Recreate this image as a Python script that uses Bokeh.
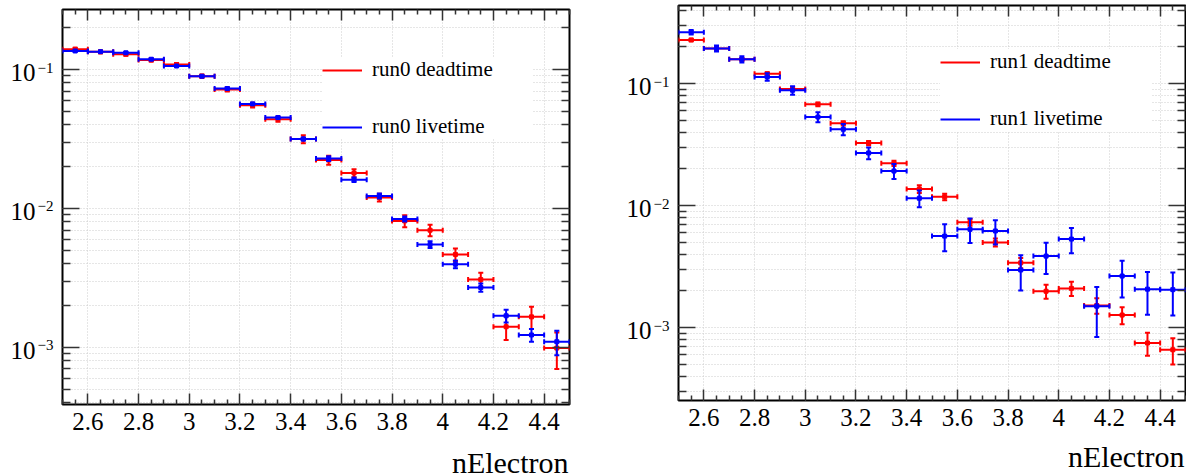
import math
from bokeh.plotting import figure
from bokeh.layouts import row, column
from bokeh.models import (ColumnDataSource, Range1d, FixedTicker, LinearAxis, LogAxis,
                          CustomJSTickFormatter, Legend, LegendItem)
from bokeh.core.properties import value
from bokeh.embed import file_html
from bokeh.resources import INLINE

# ---------------- data ----------------
bin_centers = [2.55, 2.65, 2.75, 2.85, 2.95, 3.05, 3.15, 3.25, 3.35, 3.45,
               3.55, 3.65, 3.75, 3.85, 3.95, 4.05, 4.15, 4.25, 4.35, 4.45]
bin_width = 0.1

run0_dead = [0.140, 0.134, 0.129, 0.117, 0.1086, 0.0895, 0.0718, 0.0554, 0.0439, 0.0316,
             0.0223, 0.0180, 0.0120, 0.00814, 0.00698, 0.00467, 0.00308, 0.00141, 0.00166, 0.00099]
run0_dead_err = [0.0035, 0.0033, 0.0032, 0.003, 0.0028, 0.0025, 0.0023, 0.0022, 0.0018, 0.0021,
                 0.00165, 0.0012, 0.00075, 0.0008, 0.00066, 0.00048, 0.00037, 0.00028, 0.0003, 0.00029]
run0_live = [0.136, 0.1345, 0.132, 0.1186, 0.106, 0.0895, 0.073, 0.0566, 0.0451, 0.0316,
             0.0229, 0.0161, 0.0123, 0.0084, 0.0055, 0.00397, 0.0027, 0.00169, 0.00123, 0.0011]
run0_live_err = [0.0015, 0.0015, 0.0015, 0.0014, 0.0013, 0.0012, 0.0011, 0.001, 0.0009, 0.0008,
                 0.0009, 0.0006, 0.0005, 0.00035, 0.0003, 0.00026, 0.00018, 0.00018, 0.00013, 0.00022]

run1_dead = [0.2275, 0.194, 0.158, 0.120, 0.0903, 0.0676, 0.0473, 0.0326, 0.0222, 0.0137,
             0.0118, 0.0073, 0.0050, 0.0034, 0.00199, 0.0021, 0.00152, 0.00127, 0.00075, 0.00066]
run1_dead_err = [0.005, 0.0045, 0.004, 0.0035, 0.0028, 0.0025, 0.0019, 0.0013, 0.0011, 0.001,
                 0.00074, 0.00046, 0.00037, 0.00033, 0.00026, 0.00028, 0.00022, 0.0002, 0.00016, 0.00016]
run1_live = [0.2634, 0.194, 0.158, 0.1132, 0.0881, 0.0532, 0.0422, 0.0270, 0.0192, 0.0115,
             0.00563, 0.0064, 0.0062, 0.00297, 0.00386, 0.00532, 0.0015, 0.00265, 0.00207, 0.00205]
run1_live_err = [0.011, 0.011, 0.009, 0.008, 0.007, 0.005, 0.0044, 0.003, 0.0027, 0.0018,
                 0.0014, 0.00145, 0.0014, 0.00095, 0.0011, 0.00125, 0.00066, 0.00088, 0.00079, 0.00079]

x_major_ticks = [2.6, 2.8, 3.0, 3.2, 3.4, 3.6, 3.8, 4.0, 4.2, 4.4]
x_tick_labels = ["2.6", "2.8", "3", "3.2", "3.4", "3.6", "3.8", "4", "4.2", "4.4"]
x_minor_ticks = [2.5, 2.55, 2.65, 2.7, 2.75, 2.85, 2.9, 2.95, 3.05, 3.1, 3.15, 3.25, 3.3, 3.35,
                 3.45, 3.5, 3.55, 3.65, 3.7, 3.75, 3.85, 3.9, 3.95, 4.05, 4.1, 4.15, 4.25, 4.3,
                 4.35, 4.45, 4.5]
y_major_ticks = [1e-3, 1e-2, 1e-1]
y_tick_exponents = ["\u22123", "\u22122", "\u22121"]
y_minor_ticks = [m * 10.0 ** e for e in (-4, -3, -2, -1) for m in range(2, 10)]

x_label = "nElectron"
legend_labels = [["run0 deadtime", "run0 livetime"], ["run1 deadtime", "run1 livetime"]]
colors = ["#ff0000", "#0000ff"]

FONT = "'Liberation Serif'"
HEIGHT = 473


def series_source(vals, errs):
    return ColumnDataSource(dict(
        x=bin_centers,
        x0=[c - bin_width / 2 for c in bin_centers],
        x1=[c + bin_width / 2 for c in bin_centers],
        y=vals,
        ylo=[v - e for v, e in zip(vals, errs)],
        yhi=[v + e for v, e in zip(vals, errs)],
    ))


def style_ticks(ax, tmaj, tmin):
    ax.major_tick_in = tmaj
    ax.major_tick_out = 0
    ax.minor_tick_in = tmin
    ax.minor_tick_out = 0
    ax.major_tick_line_color = "#333333"
    ax.minor_tick_line_color = "#333333"
    ax.major_tick_line_width = 1.5
    ax.minor_tick_line_width = 1.5
    ax.major_label_text_font_size = "1px"
    ax.major_label_text_color = None
    ax.major_label_standoff = 0
    ax.formatter = CustomJSTickFormatter(code="return '';")


def bare_figure(**kw):
    f = figure(output_backend="svg", toolbar_location=None,
               x_axis_location=None, y_axis_location=None, **kw)
    f.outline_line_color = None
    f.background_fill_color = "white"
    f.border_fill_color = "white"
    f.grid.visible = False
    return f


def make_panel(series, labels, yr, W, L, R, T, frame_bottom, legend_loc, title_off):
    H_main = frame_bottom + 2
    yl_w = L - 2
    main_w = W - yl_w
    xl_h = HEIGHT - H_main

    x_range = Range1d(2.5, 4.5)
    y_range = Range1d(*yr)

    p = figure(width=main_w, height=H_main, output_backend="svg", toolbar_location=None,
               x_range=x_range, y_range=y_range, y_axis_type="log",
               min_border_left=2, min_border_right=R,
               min_border_top=T, min_border_bottom=2)
    p.background_fill_color = "white"
    p.border_fill_color = "white"
    p.outline_line_color = "black"
    p.outline_line_width = 2

    xt = FixedTicker(ticks=x_major_ticks, minor_ticks=x_minor_ticks)
    yt = FixedTicker(ticks=y_major_ticks, minor_ticks=y_minor_ticks)

    xa = p.xaxis[0]
    xa.ticker = xt
    ya = p.yaxis[0]
    ya.ticker = yt
    style_ticks(xa, 11, 5)
    style_ticks(ya, 17, 8)
    xa.axis_line_color = None
    ya.axis_line_color = None

    top_ax = LinearAxis(ticker=xt, axis_line_color=None)
    right_ax = LogAxis(ticker=yt, axis_line_color=None)
    style_ticks(top_ax, 11, 5)
    style_ticks(right_ax, 17, 8)
    p.add_layout(top_ax, "above")
    p.add_layout(right_ax, "right")

    p.xgrid.ticker = xt
    p.ygrid.ticker = yt
    for g in (p.xgrid[0], p.ygrid[0]):
        g.grid_line_color = "#cccccc"
        g.grid_line_dash = "1 2"
        g.grid_line_width = 1
    p.ygrid[0].minor_grid_line_color = "#cccccc"
    p.ygrid[0].minor_grid_line_dash = "1 2"
    p.ygrid[0].minor_grid_line_width = 1

    items = []
    for (vals, errs), col, lab in zip(series, colors, labels):
        src = series_source(vals, errs)
        hb = p.segment(x0="x0", y0="y", x1="x1", y1="y", source=src,
                       line_color=col, line_width=2)
        p.segment(x0="x", y0="ylo", x1="x", y1="yhi", source=src,
                  line_color=col, line_width=2)
        p.scatter(x="x0", y="y", source=src, marker="dash", angle=math.pi / 2,
                  size=5, line_color=col, line_width=2)
        p.scatter(x="x1", y="y", source=src, marker="dash", angle=math.pi / 2,
                  size=5, line_color=col, line_width=2)
        p.scatter(x="x", y="ylo", source=src, marker="dash", size=5,
                  line_color=col, line_width=2)
        p.scatter(x="x", y="yhi", source=src, marker="dash", size=5,
                  line_color=col, line_width=2)
        p.scatter(x="x", y="y", source=src, marker="square", size=4,
                  fill_color=col, line_color=col)
        items.append(LegendItem(label=lab, renderers=[hb]))

    leg = Legend(items=items, location=legend_loc, margin=0, padding=10,
                 glyph_width=40, glyph_height=24, label_height=24, label_width=161,
                 label_standoff=10, spacing=32,
                 label_text_font=FONT, label_text_font_size="21px",
                 label_text_color="black",
                 background_fill_color="white", background_fill_alpha=1.0,
                 border_line_color=None)
    p.add_layout(leg, "center")

    # ---- y tick labels (10^n) in a strip left of the frame, sharing the y range ----
    yl = bare_figure(width=yl_w, height=H_main, x_range=Range1d(0, yl_w), y_range=y_range,
                     y_axis_type="log", min_border_left=0, min_border_right=0,
                     min_border_top=T, min_border_bottom=2)
    ysrc = ColumnDataSource(dict(y=y_major_ticks, base=["10"] * len(y_major_ticks),
                                 expo=y_tick_exponents,
                                 xb=[L - 27] * len(y_major_ticks),
                                 xe=[L - 25] * len(y_major_ticks)))
    yl.text(x="xb", y="y", text="base", source=ysrc, text_align="right",
            text_baseline="middle", y_offset=3, text_font=value(FONT),
            text_font_size="25px", text_color="black")
    yl.text(x="xe", y="y", text="expo", source=ysrc, text_align="left",
            text_baseline="middle", y_offset=-2, text_font=value(FONT),
            text_font_size="15px", text_color="black")

    # ---- x tick labels and axis title in a strip below the frame, sharing the x range ----
    xl = bare_figure(width=W, height=xl_h, x_range=x_range, y_range=Range1d(0, xl_h),
                     min_border_left=L, min_border_right=R,
                     min_border_top=0, min_border_bottom=0)
    xsrc = ColumnDataSource(dict(x=x_major_ticks, t=x_tick_labels,
                                 y=[xl_h - 15] * len(x_major_ticks)))
    xl.text(x="x", y="y", text="t", source=xsrc, text_align="center",
            text_baseline="middle", text_font=value(FONT),
            text_font_size="25px", text_color="black")
    tsrc = ColumnDataSource(dict(x=[4.5], y=[xl_h - (title_off - 2)], t=[x_label]))
    xl.text(x="x", y="y", text="t", source=tsrc, text_align="right", x_offset=-1,
            text_baseline="middle", text_font=value(FONT),
            text_font_size="30px", text_color="black")

    return column(row(yl, p), xl)


panel1 = make_panel([(run0_dead, run0_dead_err), (run0_live, run0_live_err)], legend_labels[0],
                    (3.886e-4, 0.2704), 590, 62, 21, 9, 404, (260, 265), 58)
panel2 = make_panel([(run1_dead, run1_dead_err), (run1_live, run1_live_err)], legend_labels[1],
                    (2.535e-4, 0.4357), 596, 88, 1, 5, 400, (262, 269), 56)

layout = row(panel1, panel2)
open("out.html", "w").write(file_html(layout, INLINE))
